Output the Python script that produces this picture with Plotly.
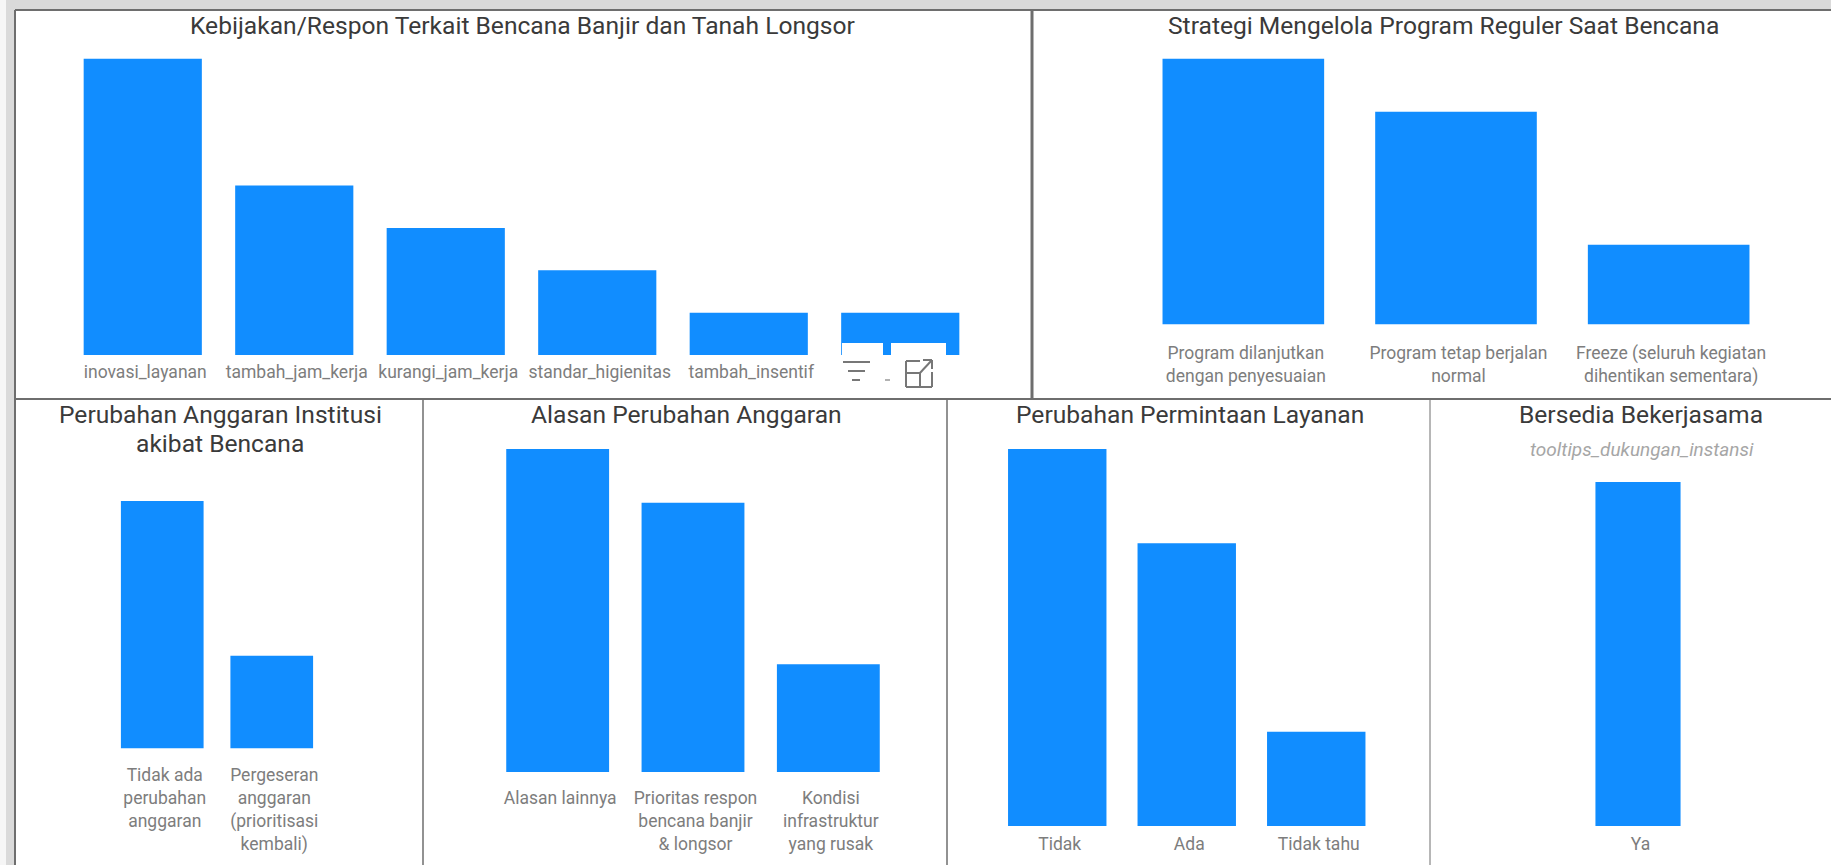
import plotly.graph_objects as go

W, H = 1831, 865
BLUE = "#118DFF"
TITLE_FONT = "Roboto"
TICK_FONT = "Roboto"

cat_kebijakan = ["inovasi_layanan", "tambah_jam_kerja", "kurangi_jam_kerja", "standar_higienitas", "tambah_insentif", " "]
val_kebijakan = [7, 4, 3, 2, 1, 1]
cat_strategi = ["Program dilanjutkan<br>dengan penyesuaian", "Program tetap berjalan<br>normal", "Freeze (seluruh kegiatan<br>dihentikan sementara)"]
val_strategi = [10, 8, 3]
cat_anggaran = ["Tidak ada<br>perubahan<br>anggaran", "Pergeseran<br>anggaran<br>(prioritisasi<br>kembali)"]
val_anggaran = [8, 3]
cat_alasan = ["Alasan lainnya", "Prioritas respon<br>bencana banjir<br>&amp; longsor", "Kondisi<br>infrastruktur<br>yang rusak"]
val_alasan = [6, 5, 2]
cat_permintaan = ["Tidak", "Ada", "Tidak tahu"]
val_permintaan = [4, 3, 1]
cat_kerjasama = ["Ya"]
val_kerjasama = [1]


def px(x):
    return x / W


def py(y):
    return 1 - y / H


def wrap(label, size=17.5):
    return "<br>".join(f'<span style="font-size:{size}px">{p}</span>' for p in label.split("<br>"))


# cats, values, left px, right px, top px, base px, bar fraction, label standoff
panels = [
    (cat_kebijakan, val_kebijakan, 67, 976, 58.5, 355, 0.78, 4),
    (cat_strategi, val_strategi, 1137, 1775, 58.5, 324.5, 0.76, 16),
    (cat_anggaran, val_anggaran, 107.5, 326.5, 501, 748.5, 0.755, 14),
    (cat_alasan, val_alasan, 490, 896, 449, 772, 0.76, 13),
    (cat_permintaan, val_permintaan, 992.5, 1381, 449, 826, 0.76, 5),
    (cat_kerjasama, val_kerjasama, 1582, 1694, 482, 826, 0.76, 5),
]
LABEL_SHIFT_PX = 2.5

fig = go.Figure()
layout = {}
for i, (cats, vals, x0, x1, top, base, frac, standoff) in enumerate(panels, start=1):
    suffix = "" if i == 1 else str(i)
    shift = LABEL_SHIFT_PX * len(cats) / (x1 - x0)
    fig.add_trace(go.Bar(
        x=list(range(len(cats))), y=vals, width=frac,
        marker=dict(color=BLUE, line=dict(width=0)),
        xaxis=f"x{suffix}", yaxis=f"y{suffix}", showlegend=False,
        hovertext=[c.replace("<br>", " ") for c in cats], hoverinfo="text+y",
    ))
    layout[f"xaxis{suffix}"] = dict(
        domain=[px(x0), px(x1)], range=[-0.5, len(cats) - 0.5], anchor=f"y{suffix}",
        tickmode="array", tickvals=[k + shift for k in range(len(cats))], ticktext=[wrap(c) for c in cats],
        tickangle=0, ticks="", showgrid=False, zeroline=False, showline=False,
        tickfont=dict(family=TICK_FONT, size=17.7, color="#7d7d7d"),
        ticklabelstandoff=standoff, automargin=False, fixedrange=True,
    )
    layout[f"yaxis{suffix}"] = dict(
        domain=[py(base), py(top)], range=[0, max(vals)], anchor=f"x{suffix}",
        visible=False, showgrid=False, zeroline=False, fixedrange=True,
    )

FRAME = "#6e6e6e"
shapes = []


def rect(x0, y0, x1, y1, fill, layer="below"):
    shapes.append(dict(type="rect", xref="paper", yref="paper", x0=px(x0), x1=px(x1), y0=py(y0), y1=py(y1),
                       fillcolor=fill, line=dict(width=0), layer=layer))


def line(x0, y0, x1, y1, color=FRAME, width=2, layer="below"):
    shapes.append(dict(type="line", xref="paper", yref="paper", x0=px(x0), x1=px(x1), y0=py(y0), y1=py(y1),
                       line=dict(color=color, width=width), layer=layer))


rect(0, 0, 6, H, "#F6F6F6")
rect(15, 10, W, H, "#FFFFFF")
line(15, 10, W, 10)
line(15, 10, 15, H)
line(15, 399, W, 399)
line(1032, 10, 1032, 399, width=3)
line(423, 399, 423, H, width=1.5)
line(947, 399, 947, H, width=1.5)
line(1430, 399, 1430, H, width=1)

# visual header overlay covering the last bar of the first panel
rect(842, 343, 883, 356, "#FFFFFF", "above")
rect(891, 343, 946, 356, "#FFFFFF", "above")
ICON = "#777777"
line(843, 362, 870, 362, ICON, 2, "above")
line(848, 371, 865, 371, ICON, 2, "above")
line(852, 380, 860, 380, ICON, 2, "above")
line(885, 380, 890, 380, "#999999", 1.5, "above")
for a in [(920, 361, 906, 361), (906, 361, 906, 387), (906, 387, 932, 387), (932, 387, 932, 372),
          (906, 373, 920, 373), (920, 373, 920, 387), (919, 374, 932, 360), (923, 360, 932, 360), (932, 360, 932, 369)]:
    line(*a, ICON, 2, "above")

TITLE = dict(family=TITLE_FONT, size=24.6, color="#3a3a3a")
titles = [
    ("Kebijakan/Respon Terkait Bencana Banjir dan Tanah Longsor", 522, 25),
    ("Strategi Mengelola Program Reguler Saat Bencana", 1443, 25),
    ("Perubahan Anggaran Institusi", 220, 415),
    ("akibat Bencana", 220, 444),
    ("Alasan Perubahan Anggaran", 686, 415),
    ("Perubahan Permintaan Layanan", 1190, 415),
    ("Bersedia Bekerjasama", 1641, 415),
]
annotations = [dict(text=t, x=px(x), y=py(y), xref="paper", yref="paper", showarrow=False,
                    xanchor="center", yanchor="middle", font=TITLE) for t, x, y in titles]
annotations.append(dict(text="<i>tooltips_dukungan_instansi</i>", x=px(1642), y=py(450), xref="paper", yref="paper",
                        showarrow=False, xanchor="center", yanchor="middle",
                        font=dict(family=TITLE_FONT, size=19, color="#a6a6a6")))

fig.update_layout(
    width=W, height=H, margin=dict(l=0, r=0, t=0, b=0, pad=0), autosize=False,
    paper_bgcolor="#DADADA", plot_bgcolor="rgba(0,0,0,0)",
    shapes=shapes, annotations=annotations, **layout,
)
fig.write_html("out.html", config=dict(displayModeBar=False),
               post_script="document.body.style.margin='0';document.body.style.overflow='hidden';")
